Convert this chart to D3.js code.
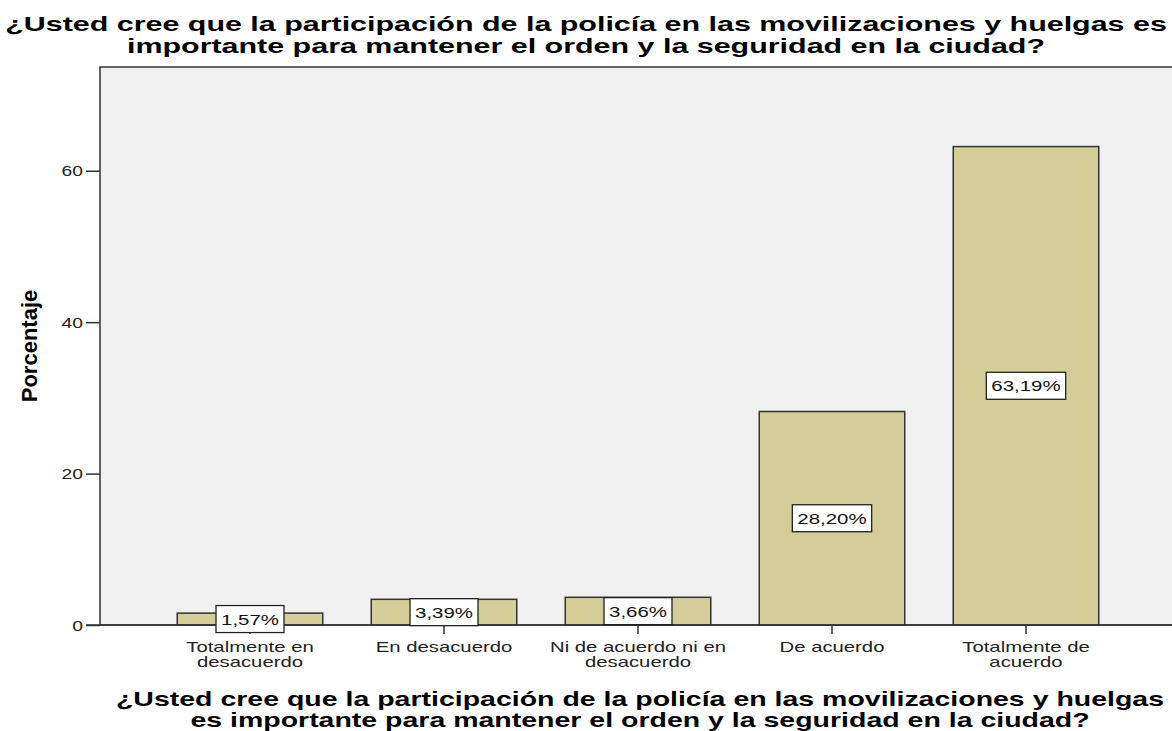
<!DOCTYPE html>
<html>
<head>
<meta charset="utf-8">
<script src="https://cdn.jsdelivr.net/npm/d3@7"></script>
<style>
  body { margin: 0; background: #fff; }
  text { font-family: "Liberation Sans", Arial, sans-serif; }
</style>
</head>
<body>
<div id="chart"></div>
<script>
// Data
const categories = [
  ["Totalmente en", "desacuerdo"],
  ["En desacuerdo"],
  ["Ni de acuerdo ni en", "desacuerdo"],
  ["De acuerdo"],
  ["Totalmente de", "acuerdo"]
];
const percentages = [1.57, 3.39, 3.66, 28.20, 63.19];
const yTicks = [0, 20, 40, 60];
const titleLines = [
  "¿Usted cree que la participación de la policía en las movilizaciones y huelgas es",
  "importante para mantener el orden y la seguridad en la ciudad?"
];
const xTitleLines = [
  "¿Usted cree que la participación de la policía en las movilizaciones y huelgas",
  "es importante para mantener el orden y la seguridad en la ciudad?"
];

const width = 1172, height = 731;
const plot = { left: 100, top: 67, right: 1180, bottom: 625 };
// the original export is stretched sideways, so text gets a horizontal scale
const stretch = 1.4;

const svg = d3.select('#chart').append('svg')
  .attr('width', width)
  .attr('height', height);

// Scales
const keys = categories.map((c, i) => i);
const x = d3.scaleBand()
  .domain(keys)
  .range([153, 1123])
  .paddingInner(0.25)
  .paddingOuter(0.125);
const y = d3.scaleLinear()
  .domain([0, 73.7])
  .range([plot.bottom, plot.top]);

// Plot background
svg.append('rect')
  .attr('x', plot.left).attr('y', plot.top)
  .attr('width', plot.right - plot.left)
  .attr('height', plot.bottom - plot.top)
  .attr('fill', '#f0f0f0')
  .attr('stroke', '#333')
  .attr('stroke-width', 1.5);

// Bars
svg.append('g').selectAll('rect')
  .data(percentages)
  .join('rect')
  .attr('x', (d, i) => x(i))
  .attr('y', d => y(d))
  .attr('width', x.bandwidth())
  .attr('height', d => y(0) - y(d))
  .attr('fill', '#d3ce97')
  .attr('stroke', '#333')
  .attr('stroke-width', 1.5);

// Y axis
const yAxis = d3.axisLeft(y).tickValues(yTicks).tickSize(14).tickFormat('');
const gy = svg.append('g')
  .attr('transform', `translate(${plot.left},0)`)
  .call(yAxis);
gy.select('.domain').remove();
gy.selectAll('.tick line').attr('stroke', '#333').attr('stroke-width', 1.5);
gy.selectAll('.tick').append('text')
  .attr('transform', `translate(-17,0) scale(${stretch * 0.95},1)`)
  .attr('text-anchor', 'end')
  .attr('dy', '0.36em')
  .attr('font-size', 14.5)
  .attr('fill', '#222')
  .text(d => d);

// X axis
const xAxis = d3.axisBottom(x).tickSize(9).tickFormat('');
const gx = svg.append('g')
  .attr('transform', `translate(0,${plot.bottom})`)
  .call(xAxis);
gx.select('.domain').remove();
gx.selectAll('.tick line').attr('stroke', '#333').attr('stroke-width', 1.5);
svg.append('line')
  .attr('x1', plot.left - 14).attr('x2', plot.right)
  .attr('y1', plot.bottom).attr('y2', plot.bottom)
  .attr('stroke', '#333').attr('stroke-width', 1.5);

gx.selectAll('.tick').each(function(d) {
  const t = d3.select(this).append('text')
    .attr('transform', `scale(${stretch},1)`)
    .attr('fill', '#222')
    .attr('font-size', 14.5)
    .attr('text-anchor', 'middle');
  categories[d].forEach((line, k) => {
    t.append('tspan').attr('x', 0).attr('y', 27 + k * 15).text(line);
  });
});

// Value labels
const labelStretch = 1.32;
const labels = svg.append('g').selectAll('g')
  .data(percentages)
  .join('g')
  .attr('transform', (d, i) => `translate(${x(i) + x.bandwidth() / 2},${(y(0) + y(d)) / 2})`);
labels.append('rect')
  .attr('fill', '#fff')
  .attr('stroke', '#222')
  .attr('stroke-width', 1.3);
labels.append('text')
  .attr('transform', `scale(${labelStretch},1)`)
  .attr('text-anchor', 'middle')
  .attr('dy', '0.36em')
  .attr('font-size', 15.5)
  .attr('fill', '#111')
  .text(d => d.toFixed(2).replace('.', ',') + '%')
  .each(function() {
    const w = this.getComputedTextLength() * labelStretch + 10;
    d3.select(this.parentNode).select('rect')
      .attr('x', -w / 2).attr('y', -13.5)
      .attr('width', w).attr('height', 27);
  });

// Titles
function stretchedTitle(lines, cx, y0, size, sx, lh) {
  const t = svg.append('text')
    .attr('transform', `translate(${cx},0) scale(${sx},1)`)
    .attr('text-anchor', 'middle')
    .attr('font-weight', 'bold')
    .attr('font-size', size)
    .attr('fill', '#000');
  lines.forEach((line, k) => {
    t.append('tspan').attr('x', 0).attr('y', y0 + k * lh).text(line);
  });
}
stretchedTitle(titleLines, 586, 31, 20.5, 1.485, 22);
stretchedTitle(xTitleLines, 640, 706, 20, 1.425, 21.5);

svg.append('text')
  .attr('transform', `translate(37,${(plot.top + plot.bottom) / 2}) rotate(-90)`)
  .attr('text-anchor', 'middle')
  .attr('font-weight', 'bold')
  .attr('font-size', 22)
  .attr('fill', '#000')
  .text('Porcentaje');
</script>
</body>
</html>
